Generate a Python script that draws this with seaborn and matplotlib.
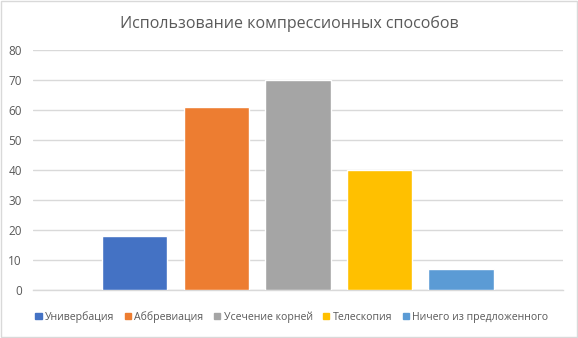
import pandas as pd
import matplotlib.pyplot as plt
import seaborn as sns
from matplotlib.patches import Rectangle

# Data
methods = ['Универбация', 'Аббревиация', 'Усечение корней', 'Телескопия', 'Ничего из предложенного']
counts = [18, 61, 70, 40, 7]
colors = ['#4472C4', '#ED7D31', '#A5A5A5', '#FFC000', '#5B9BD5']
yticks = [0, 10, 20, 30, 40, 50, 60, 70, 80]
title = 'Использование компрессионных способов'

sns.set_style("white")
plt.rcParams['font.family'] = ['Open Sans', 'DejaVu Sans']

df = pd.DataFrame({'method': methods, 'count': counts})

fig = plt.figure(figsize=(5.78, 3.38), dpi=100)
ax = fig.add_axes([0.057, 0.142, 0.917, 0.71])

sns.barplot(data=df, x='method', y='count', hue='method',
            palette=colors, width=0.8, saturation=1,
            legend=False, ax=ax, zorder=3)

ax.set_xlim(-1.25, 5.25)
ax.set_ylim(0, 80)
ax.set_yticks(yticks)
ax.set_xticks([])
ax.set_xlabel('')
ax.set_ylabel('')
ax.yaxis.grid(True, color='#D9D9D9', linewidth=1.0, zorder=0)
ax.tick_params(axis='y', length=0, labelsize=8.5, labelcolor='#595959', pad=8)
for side in ['top', 'left', 'right']:
    ax.spines[side].set_visible(False)
ax.spines['bottom'].set_color('#D9D9D9')
ax.spines['bottom'].set_linewidth(1.0)

fig.text(0.5, 0.93, title, ha='center', va='center',
         fontsize=11.5, color='#595959')

handles = [Rectangle((0, 0), 1, 1, color=c) for c in colors]
fig.legend(handles, methods, loc='center', bbox_to_anchor=(0.505, 0.063),
           ncol=5, frameon=False, fontsize=7.6, labelcolor='#595959',
           handlelength=0.6, handleheight=0.6, handletextpad=0.3,
           columnspacing=1.0)

# light chart border like the original
fig.patches.append(Rectangle((0.002, 0.003), 0.996, 0.994, transform=fig.transFigure,
                             fill=False, edgecolor='#D9D9D9', linewidth=1.0))

plt.savefig('out.png', dpi=100)
plt.close()
